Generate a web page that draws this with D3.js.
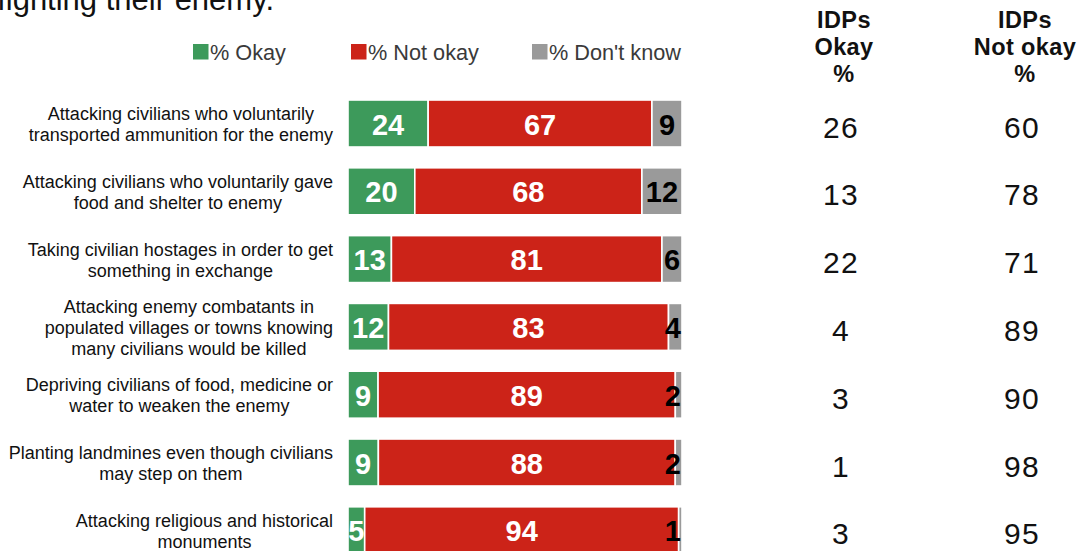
<!DOCTYPE html>
<html>
<head>
<meta charset="utf-8">
<script src="https://cdn.jsdelivr.net/npm/d3@7"></script>
<style>
  body { margin: 0; background: #fff; }
  svg { display: block; font-family: "Liberation Sans", Arial, Helvetica, sans-serif; }
</style>
</head>
<body>
<svg id="chart" width="1082" height="551"></svg>
<script>
// Survey items (each entry is the wrapped lines of one row label)
const categories = [
  ["Attacking civilians who voluntarily", "transported ammunition for the enemy"],
  ["Attacking civilians who voluntarily gave", "food and shelter to enemy"],
  ["Taking civilian hostages in order to get", "something in exchange"],
  ["Attacking enemy combatants in", "populated villages or towns knowing", "many civilians would be killed"],
  ["Depriving civilians of food, medicine or", "water to weaken the enemy"],
  ["Planting landmines even though civilians", "may step on them"],
  ["Attacking religious and historical", "monuments"]
];

// Overall responses, %
const okay     = [24, 20, 13, 12,  9,  9,  5];
const notOkay  = [67, 68, 81, 83, 89, 88, 94];
const dontKnow = [ 9, 12,  6,  4,  2,  2,  1];

// Internally displaced persons, %
const idpOkay    = [26, 13, 22,  4,  3,  1,  3];
const idpNotOkay = [60, 78, 71, 89, 90, 98, 95];

const seriesKeys   = ["okay", "notOkay", "dontKnow"];
const seriesNames  = ["% Okay", "% Not okay", "% Don't know"];
const seriesColors = ["#3d9a5b", "#cc2318", "#9a9a9a"];
const idpHeaders   = [["IDPs", "Okay", "%"], ["IDPs", "Not okay", "%"]];
const titleText    = "fighting their enemy.";

const svg = d3.select("#chart");

// Rows; each bar is scaled to its own total so it fills the full width
const rows = categories.map((c, i) => {
  const total = okay[i] + notOkay[i] + dontKnow[i];
  return {
    i, lines: c,
    okay: okay[i], notOkay: notOkay[i], dontKnow: dontKnow[i],
    n_okay: okay[i] / total * 100,
    n_notOkay: notOkay[i] / total * 100,
    n_dontKnow: dontKnow[i] / total * 100
  };
});

const x = d3.scaleLinear().domain([0, 100]).range([348, 682]);
const y = d3.scaleBand()
  .domain(d3.range(rows.length))
  .range([89.6, 89.6 + 67.8 * rows.length])
  .paddingInner(0.307)
  .paddingOuter(0.1535);

const stack = d3.stack().keys(seriesKeys.map(k => "n_" + k));
const stacked = stack(rows);

// Title fragment at the top
svg.append("text")
  .attr("x", 274).attr("y", 10)
  .attr("text-anchor", "end")
  .attr("font-size", 31)
  .attr("fill", "#111")
  .text(titleText);

// Legend
const legendX = [193, 351, 532];
const legend = svg.append("g");
seriesNames.forEach((name, k) => {
  legend.append("rect")
    .attr("x", legendX[k]).attr("y", 44)
    .attr("width", 15.5).attr("height", 15.5)
    .attr("fill", seriesColors[k]);
  legend.append("text")
    .attr("x", legendX[k] + 17).attr("y", 59.5)
    .attr("font-size", 21.7)
    .attr("fill", "#3a3a3a")
    .text(name);
});

// Stacked bars
const layers = svg.append("g").selectAll("g")
  .data(stacked)
  .join("g")
  .attr("fill", (d, k) => seriesColors[k]);

layers.selectAll("rect")
  .data(d => d)
  .join("rect")
  .attr("x", d => x(d[0]))
  .attr("y", (d, i) => y(i))
  .attr("width", d => Math.max(0, x(d[1]) - x(d[0])))
  .attr("height", y.bandwidth())
  .attr("stroke", "#fff")
  .attr("stroke-width", 1.6);

// Segment value labels
const labelG = svg.append("g")
  .attr("font-size", 29)
  .attr("font-weight", "bold")
  .attr("text-anchor", "middle");

stacked.forEach((layer, k) => {
  layer.forEach((d, i) => {
    const value = rows[i][seriesKeys[k]];
    const cx = (x(d[0]) + x(d[1])) / 2;
    const t = labelG.append("text")
      .attr("x", cx)
      .attr("y", y(i) + y.bandwidth() / 2 + 11)
      .attr("fill", k === 2 ? "#000" : "#fff")
      .text(value);
    const w = t.node().getComputedTextLength();
    if (cx + w / 2 > x.range()[1] - 1) t.attr("x", x.range()[1] - 1 - w / 2);
    if (cx - w / 2 < x.range()[0]) t.attr("x", x.range()[0] + w / 2);
  });
});

// Row labels: centred block whose widest line ends next to the bars
const lineH = 21;
const catG = svg.append("g").attr("font-size", 18).attr("fill", "#111");
rows.forEach(r => {
  const g = catG.append("g");
  const texts = r.lines.map(l => g.append("text").attr("text-anchor", "middle").text(l));
  const maxW = d3.max(texts, t => t.node().getComputedTextLength());
  const cx = 333 - maxW / 2;
  const yc = y(r.i) + y.bandwidth() / 2;
  const first = yc - (r.lines.length - 1) * lineH / 2 + 7;
  texts.forEach((t, j) => t.attr("x", cx).attr("y", first + j * lineH));
});

// IDP columns
const colX = [844, 1025];
const idpValues = [idpOkay, idpNotOkay];
idpHeaders.forEach((lines, c) => {
  lines.forEach((l, j) => {
    svg.append("text")
      .attr("x", colX[c]).attr("y", 28 + j * 27)
      .attr("text-anchor", "middle")
      .attr("font-size", 23.5)
      .attr("letter-spacing", 0.4)
      .attr("font-weight", "bold")
      .attr("fill", "#111")
      .text(l);
  });
  svg.append("g").selectAll("text")
    .data(idpValues[c])
    .join("text")
    .attr("x", colX[c] - 3)
    .attr("y", (d, i) => y(i) + y.bandwidth() / 2 + 14)
    .attr("text-anchor", "middle")
    .attr("font-size", 30)
    .attr("letter-spacing", 1.2)
    .attr("fill", "#111")
    .text(d => d);
});
</script>
</body>
</html>
